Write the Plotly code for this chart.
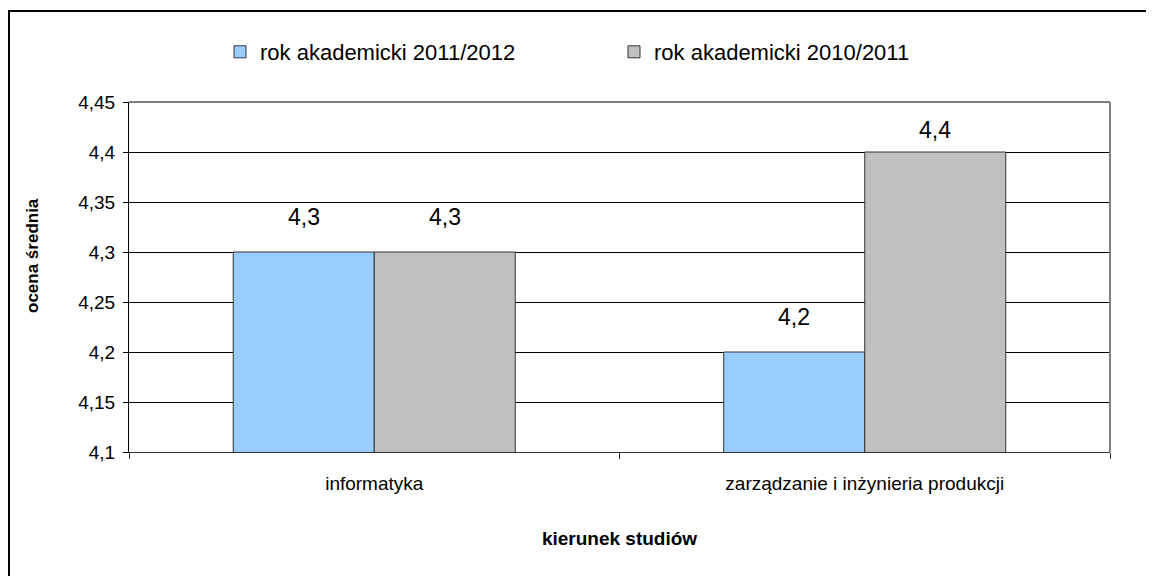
import plotly.graph_objects as go

categories = ["informatyka", "zarządzanie i inżynieria produkcji"]
series_names = ["rok akademicki 2011/2012", "rok akademicki 2010/2011"]
values_2011_2012 = [4.3, 4.2]
values_2010_2011 = [4.3, 4.4]
series_values = [values_2011_2012, values_2010_2011]
colors = ["#99CCFF", "#C0C0C0"]
y_min, y_max, y_step = 4.1, 4.45, 0.05

# page body has an 8px margin, so the figure origin sits at (8, 8)
OFF = 8
W, H = 1154 - OFF, 576 - OFF
L, T = 129 - OFF, 102 - OFF
PR, PB = 1110 - OFF, 452 - OFF
R, B = W - PR, H - PB
pw, ph = PR - L, PB - T

FONT = "Arial, Liberation Sans, sans-serif"

fig = go.Figure()
for name, vals, col in zip(series_names, series_values, colors):
    fig.add_trace(go.Bar(
        x=categories, y=vals, name=name,
        marker=dict(color=col, line=dict(color="#333333", width=1)),
    ))

bargap = 0.425
cat_px = pw / len(categories)
bar_px = cat_px * (1 - bargap) / 2
offsets = [-bar_px / 2, bar_px / 2]
annotations = []
for vals, off in zip(series_values, offsets):
    for c, v in zip(categories, vals):
        dist_top = (y_max - v) / (y_max - y_min) * ph
        annotations.append(dict(
            x=c, y=v, xref="x", yref="y", text=f"{v:.1f}".replace(".", ","),
            showarrow=False, xshift=off, yshift=min(35, dist_top - 28),
            font=dict(family=FONT, size=23, color="#000"),
        ))

annotations.append(dict(
    x=(33 - OFF - L) / pw, y=1 - (256 - OFF - T) / ph,
    xref="paper", yref="paper", xanchor="center", yanchor="middle",
    text="<b>ocena średnia</b>", textangle=-90, showarrow=False,
    font=dict(family=FONT, size=17, color="#000"),
))

shapes = [
    # outer chart border
    dict(type="rect", xref="paper", yref="paper",
         x0=(9 - OFF - L) / pw, x1=(1180 - OFF - L) / pw,
         y0=1 - (600 - OFF - T) / ph, y1=1 + (T - (11 - OFF)) / ph,
         line=dict(color="#000", width=2), layer="below"),
    # plot-area border (top and right)
    dict(type="line", xref="paper", yref="paper", x0=0, x1=1, y0=1, y1=1,
         line=dict(color="#808080", width=2), layer="above"),
    dict(type="line", xref="paper", yref="paper", x0=1, x1=1, y0=0, y1=1,
         line=dict(color="#808080", width=2), layer="above"),
]

fig.update_layout(
    width=W, height=H,
    margin=dict(l=L, r=R, t=T, b=B, autoexpand=False),
    paper_bgcolor="white", plot_bgcolor="white",
    separators=", ",
    barmode="group", bargap=bargap, bargroupgap=0,
    font=dict(family=FONT, size=15, color="#000"),
    showlegend=True,
    legend=dict(
        orientation="h", x=(220 - OFF - L) / pw, xanchor="left",
        y=1 + (T - (52 - OFF)) / ph, yanchor="middle",
        font=dict(family=FONT, size=22, color="#000"),
        entrywidth=349, entrywidthmode="pixels",
        itemwidth=30, bgcolor="rgba(0,0,0,0)",
    ),
    annotations=annotations,
    shapes=shapes,
)

fig.update_xaxes(
    showline=True, linecolor="#333333", linewidth=1,
    ticks="outside", tickson="boundaries", ticklen=6, tickcolor="#333333",
    ticklabelstandoff=14,
    tickfont=dict(family=FONT, size=19, color="#000"),
    title=dict(text="<b>kierunek studiów</b>", standoff=38,
               font=dict(family=FONT, size=19, color="#000")),
    showgrid=False, automargin=False,
)
fig.update_yaxes(
    range=[y_min, y_max], dtick=y_step, tick0=y_min,
    showline=True, linecolor="#000", linewidth=1,
    ticks="outside", ticklen=5, tickcolor="#000",
    ticklabelstandoff=4,
    tickfont=dict(family=FONT, size=19, color="#000"),
    showgrid=True, gridcolor="#000", gridwidth=1,
    zeroline=False, automargin=False,
)

fig.write_html("out.html")
